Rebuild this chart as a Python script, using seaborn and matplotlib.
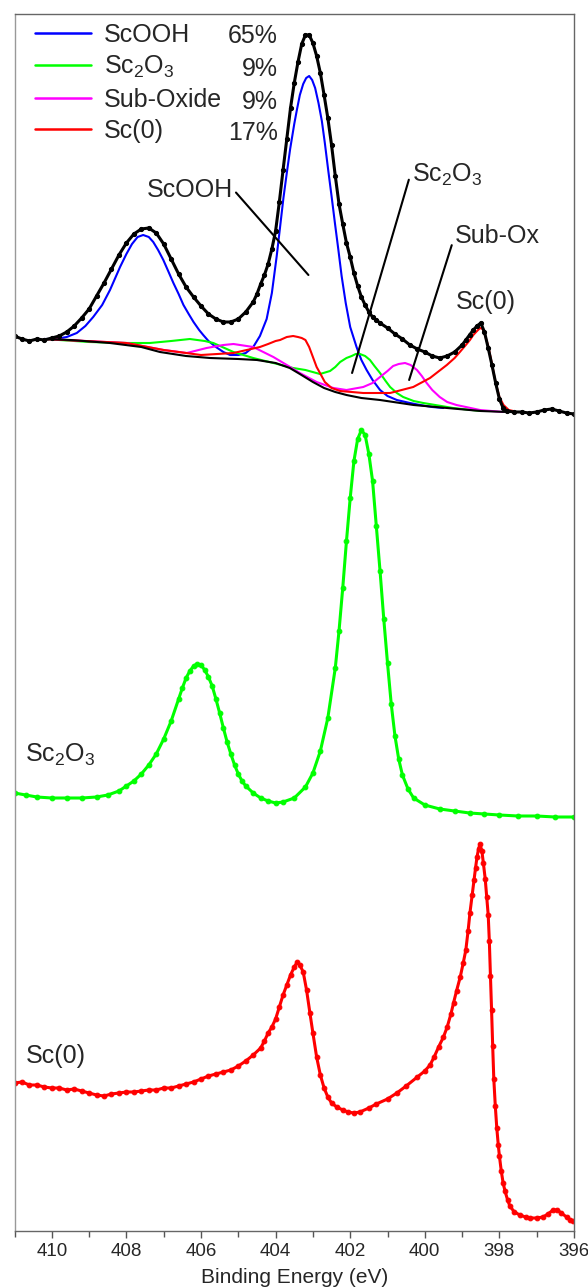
import numpy as np
import pandas as pd
import seaborn as sns
import matplotlib.pyplot as plt
from matplotlib.lines import Line2D

# binding energies (eV) and intensities (a.u.)

# top: ScOOH sample, measured
top_be = [411.0, 410.8, 410.6, 410.4, 410.2, 410.0, 409.8, 409.6, 409.4, 409.2,
          409.0, 408.8, 408.6, 408.4, 408.2, 408.0, 407.8, 407.6, 407.4, 407.2,
          407.0, 406.8, 406.6, 406.4, 406.2, 406.0, 405.8, 405.6, 405.4, 405.2,
          405.0, 404.8, 404.6, 404.5, 404.4, 404.3, 404.2, 404.1, 404.0, 403.9,
          403.8, 403.7, 403.6, 403.5, 403.4, 403.3, 403.2, 403.1, 403.0, 402.9,
          402.8, 402.7, 402.6, 402.5, 402.4, 402.3, 402.2, 402.1, 402.0, 401.9,
          401.8, 401.7, 401.6, 401.5, 401.4, 401.3, 401.2, 401.0, 400.8, 400.6,
          400.4, 400.2, 400.0, 399.8, 399.6, 399.4, 399.2, 399.0, 398.9, 398.8,
          398.7, 398.6, 398.5, 398.4, 398.3, 398.2, 398.1, 398.0, 397.9, 397.8,
          397.6, 397.4, 397.2, 397.0, 396.8, 396.6, 396.4, 396.2, 396.0]
top_int = [895, 892, 890, 892, 891, 893, 895, 899, 905, 913,
           922, 935, 948, 962, 976, 988, 997, 1002, 1003, 998,
           987, 972, 957, 944, 934, 925, 917, 912, 909, 909,
           912, 919, 929, 937, 947, 956, 967, 982, 1000, 1029,
           1061, 1092, 1123, 1148, 1169, 1187, 1196, 1196, 1188, 1175,
           1158, 1136, 1113, 1086, 1055, 1027, 1007, 988, 974, 958,
           945, 934, 926, 919, 914, 911, 908, 903, 897, 892,
           886, 882, 879, 875, 873, 875, 879, 886, 891, 896,
           901, 905, 908, 899, 883, 866, 848, 832, 823, 820,
           819, 819, 818, 819, 821, 822, 820, 818, 817]

# top: Shirley background and fit components
bg_be = [410.2, 409.5, 408.44, 407.6, 407.1, 406.4, 405.76, 405.0, 404.5, 404.0,
         403.62, 403.35, 403.0, 402.7, 402.4, 402.1, 401.7, 401.2, 400.3, 399.4, 398.5, 397.8]
bg_int = [892, 891, 888, 884, 879, 875, 873, 872, 871, 868,
          863, 857, 849, 843, 839, 836, 833, 831, 826, 823, 820, 819]

scooh_be = [410.2, 409.9, 409.6, 409.33, 409.1, 408.89, 408.65, 408.44, 408.17, 408.0,
            407.85, 407.7, 407.55, 407.4, 407.28, 407.15, 407.01, 406.88, 406.74, 406.6,
            406.47, 406.33, 406.2, 406.05, 405.94, 405.8, 405.6, 405.4, 405.22, 405.0,
            404.8, 404.6, 404.42, 404.24, 404.1, 403.97, 403.88, 403.79, 403.7, 403.61,
            403.5, 403.43, 403.35, 403.26, 403.18, 403.1, 403.02, 402.94, 402.85, 402.76,
            402.68, 402.59, 402.5, 402.41, 402.32, 402.23, 402.12, 402.0, 401.83, 401.7,
            401.56, 401.4, 401.2, 401.0, 400.75, 400.4, 400.13, 399.8, 399.5]
scooh_int = [892, 892, 894, 898, 905, 914, 926, 941, 964, 977,
             987, 994, 996, 994, 989, 981, 971, 960, 948, 937,
             926, 917, 909, 901, 896, 890, 884, 879, 876, 876,
             878, 884, 895, 912, 938, 975, 1004, 1033, 1058, 1082,
             1107, 1121, 1136, 1147, 1153, 1155, 1151, 1143, 1128, 1110,
             1088, 1061, 1035, 1008, 982, 955, 928, 904, 884, 871,
             861, 851, 841, 835, 831, 828, 826, 824, 823]

sc2o3_be = [410.2, 409.0, 408.0, 407.37, 406.8, 406.3, 405.9, 405.67, 405.13, 404.6,
            404.06, 403.53, 403.2, 402.81, 402.54, 402.4, 402.27, 402.1, 401.96, 401.85,
            401.74, 401.6, 401.47, 401.35, 401.2, 401.05, 400.93, 400.75, 400.58, 400.3,
            400.04, 399.24, 398.5]
sc2o3_int = [892, 889, 888, 888, 890, 892, 890, 888, 879, 873,
             868, 863, 861, 857, 860, 864, 869, 873, 875, 877,
             877, 875, 871, 865, 858, 850, 844, 838, 834, 830,
             828, 823, 820]

subox_be = [410.2, 408.0, 407.0, 406.38, 405.85, 405.4, 405.13, 404.6, 404.06, 403.61,
            403.35, 402.9, 402.45, 402.1, 401.65, 401.4, 401.2, 401.0, 400.85, 400.7,
            400.53, 400.38, 400.21, 400.08, 399.95, 399.8, 399.6, 399.4, 399.15, 398.52, 397.9]
subox_int = [892, 888, 881, 878, 883, 886, 887, 884, 874, 864,
             858, 849, 843, 841, 844, 848, 854, 860, 865, 867,
             868, 866, 861, 855, 848, 841, 834, 829, 826, 821, 819]

sc0_be = [410.2, 408.0, 407.0, 406.0, 405.13, 404.42, 404.2, 404.0, 403.88, 403.7,
          403.53, 403.4, 403.3, 403.2, 403.1, 403.0, 402.9, 402.81, 402.68, 402.5,
          402.27, 401.65, 400.93, 400.31, 399.86, 399.41, 399.2, 399.06, 398.9, 398.79,
          398.7, 398.6, 398.52, 398.45, 398.38, 398.3, 398.2, 398.1, 398.0, 397.89,
          397.75, 397.63]
sc0_int = [892, 888, 881, 876, 878, 884, 887, 890, 891, 894,
           895, 894, 893, 891, 884, 874, 864, 858, 849, 843,
           840, 838, 838, 844, 853, 866, 873, 879, 886, 891,
           896, 900, 903, 902, 895, 885, 867, 848, 834, 826,
           821, 820]

# middle: Sc2O3 reference
mid_be = [411.0, 410.7, 410.4, 410.0, 409.6, 409.2, 408.8, 408.5, 408.2, 408.0,
          407.8, 407.6, 407.4, 407.2, 407.0, 406.8, 406.6, 406.5, 406.4, 406.3,
          406.2, 406.1, 406.0, 405.9, 405.8, 405.7, 405.6, 405.5, 405.4, 405.3,
          405.2, 405.1, 405.0, 404.9, 404.8, 404.6, 404.4, 404.2, 404.0, 403.8,
          403.5, 403.2, 403.0, 402.8, 402.6, 402.4, 402.3, 402.2, 402.1, 402.0,
          401.9, 401.8, 401.7, 401.6, 401.5, 401.4, 401.3, 401.2, 401.1, 401.0,
          400.9, 400.8, 400.7, 400.6, 400.45, 400.3, 400.0, 399.6, 399.2, 398.8,
          398.4, 398.0, 397.5, 397.0, 396.5, 396.0]
mid_int = [438, 436, 434, 433, 433, 433, 434, 436, 440, 445,
           450, 457, 466, 477, 492, 510, 532, 543, 553, 560,
           565, 567, 566, 561, 554, 545, 532, 518, 503, 489,
           477, 466, 457, 450, 445, 438, 433, 430, 428, 429,
           433, 444, 458, 480, 513, 563, 600, 643, 690, 733,
           770, 792, 801, 796, 777, 750, 705, 660, 612, 568,
           527, 495, 472, 456, 442, 433, 426, 422, 420, 418,
           417, 416, 415, 415, 414, 414]

# bottom: Sc(0) reference
bot_be = [411.0, 410.8, 410.6, 410.4, 410.2, 410.0, 409.8, 409.6, 409.4, 409.2,
          409.0, 408.8, 408.6, 408.4, 408.2, 408.0, 407.8, 407.6, 407.4, 407.2,
          407.0, 406.8, 406.6, 406.4, 406.2, 406.0, 405.8, 405.6, 405.4, 405.2,
          405.0, 404.8, 404.6, 404.4, 404.3, 404.2, 404.1, 404.0, 403.9, 403.8,
          403.7, 403.6, 403.5, 403.42, 403.35, 403.26, 403.17, 403.08, 403.0, 402.9,
          402.8, 402.7, 402.6, 402.5, 402.36, 402.2, 402.06, 401.9, 401.74, 401.5,
          401.3, 401.0, 400.75, 400.5, 400.2, 400.0, 399.86, 399.75, 399.63, 399.5,
          399.4, 399.3, 399.23, 399.15, 399.05, 398.97, 398.9, 398.84, 398.79, 398.73,
          398.68, 398.64, 398.6, 398.56, 398.52, 398.47, 398.43, 398.38, 398.34, 398.3,
          398.27, 398.24, 398.21, 398.18, 398.15, 398.11, 398.07, 398.03, 398.0, 397.95,
          397.9, 397.85, 397.78, 397.72, 397.6, 397.45, 397.3, 397.18, 397.0, 396.83,
          396.7, 396.56, 396.45, 396.34, 396.2, 396.1, 396.04]
bot_int = [148, 149, 146, 146, 144, 143, 143, 141, 142, 140,
           138, 136, 135, 137, 138, 139, 139, 140, 141, 141,
           143, 143, 145, 147, 149, 152, 155, 157, 159, 161,
           165, 170, 176, 183, 190, 198, 204, 212, 224, 236,
           246, 256, 264, 269, 266, 259, 241, 218, 198, 174,
           156, 143, 134, 128, 124, 121, 119, 118, 119, 123,
           127, 132, 138, 145, 154, 160, 166, 174, 184, 194,
           204, 217, 228, 240, 254, 268, 281, 300, 318, 336,
           351, 363, 374, 382, 387, 380, 368, 352, 334, 316,
           290, 255, 221, 185, 152, 125, 103, 86, 75, 60,
           48, 40, 31, 25, 19, 16, 14, 13, 13, 14,
           17, 21, 21, 18, 14, 11, 10]

comp_names = ["ScOOH", "Sc$_2$O$_3$", "Sub-Oxide", "Sc(0)"]
comp_pct = ["65%", "9%", "9%", "17%"]
comp_colors = ["#0000ff", "#00ff00", "#ff00ff", "#ff0000"]

sns.set_style("ticks")
plt.rcParams['font.family'] = ['Liberation Sans', 'DejaVu Sans']
plt.rcParams['mathtext.fontset'] = 'custom'
plt.rcParams['mathtext.rm'] = 'Liberation Sans'
plt.rcParams['mathtext.it'] = 'Liberation Sans:italic'

fig = plt.figure(figsize=(5.88, 12.88), dpi=100)
ax = fig.add_axes([14.5 / 588, 57 / 1288, 559.5 / 588, 1217 / 1288])

# fit components over the Shirley background
comps = [(scooh_be, scooh_int), (sc2o3_be, sc2o3_int), (subox_be, subox_int), (sc0_be, sc0_int)]
for (be, it), c in zip(comps, comp_colors):
    sns.lineplot(x=be, y=it, color=c, lw=1.5, sort=False, estimator=None, ax=ax)
sns.lineplot(x=bg_be, y=bg_int, color="black", lw=1.5, sort=False, estimator=None, ax=ax)

# measured spectra
sns.lineplot(x=top_be, y=top_int, color="black", lw=2.2, marker="o", ms=3,
             mec="black", sort=False, estimator=None, ax=ax)
sns.lineplot(x=mid_be, y=mid_int, color="#00ff00", lw=2.2, marker="o", ms=3.4,
             mec="#00ff00", sort=False, estimator=None, ax=ax)
sns.lineplot(x=bot_be, y=bot_int, color="#ff0000", lw=2.2, marker="o", ms=3.4,
             mec="#ff0000", sort=False, estimator=None, ax=ax)

ax.set_xlim(411, 396)
ax.set_ylim(0, 1217)
ax.set_xticks(np.arange(396, 411, 2))
ax.set_xticks(np.arange(397, 412, 2), minor=True)
ax.set_yticks([])
ax.tick_params(axis='x', which='both', direction='out', labelsize=13.5, color='#555555')
ax.tick_params(axis='x', which='major', length=5, width=1)
ax.tick_params(axis='x', which='minor', length=4, width=1)
for sp in ax.spines.values():
    sp.set_color('#666666')
    sp.set_linewidth(1.0)
    sp.set_visible(True)
ax.spines['left'].set_color('#999999')
ax.set_xlabel("Binding Energy (eV)", fontsize=15, labelpad=6)

# peak labels
fs = 18
ax.annotate("ScOOH", xy=(403.12, 956), xytext=(405.15, 1034), fontsize=fs, ha='right', va='baseline',
            arrowprops=dict(arrowstyle='-', color='black', lw=1.5, shrinkA=0, shrinkB=0,
                            relpos=(1.0, 0.55)))
ax.annotate("Sc$_2$O$_3$", xy=(401.95, 858), xytext=(400.34, 1049), fontsize=fs, ha='left', va='baseline',
            arrowprops=dict(arrowstyle='-', color='black', lw=1.5, shrinkA=0, shrinkB=0,
                            relpos=(0.0, 0.75)))
ax.annotate("Sub-Ox", xy=(400.42, 851), xytext=(399.19, 988), fontsize=fs, ha='left', va='baseline',
            arrowprops=dict(arrowstyle='-', color='black', lw=1.5, shrinkA=0, shrinkB=0,
                            relpos=(0.0, 0.55)))
ax.text(399.16, 922, "Sc(0)", fontsize=fs, ha='left', va='baseline')
ax.text(410.73, 469, "Sc$_2$O$_3$", fontsize=fs, ha='left', va='baseline')
ax.text(410.69, 168, "Sc(0)", fontsize=fs, ha='left', va='baseline')

# legend with component fractions
handles = [Line2D([], [], color=c, lw=1.8) for c in comp_colors]
leg = ax.legend(handles, comp_names, loc='upper left', bbox_to_anchor=(0.0366, 0.9930),
                frameon=False, fontsize=fs, handlelength=2.25, handletextpad=0.52,
                labelspacing=0.3, borderpad=0, borderaxespad=0)
pct_y = [0.9822, 0.9548, 0.9275, 0.9025]
for p, yy in zip(comp_pct, pct_y):
    ax.text(0.471, yy, p, transform=ax.transAxes, fontsize=fs, ha='right', va='center')

fig.savefig("out.png", dpi=100)
